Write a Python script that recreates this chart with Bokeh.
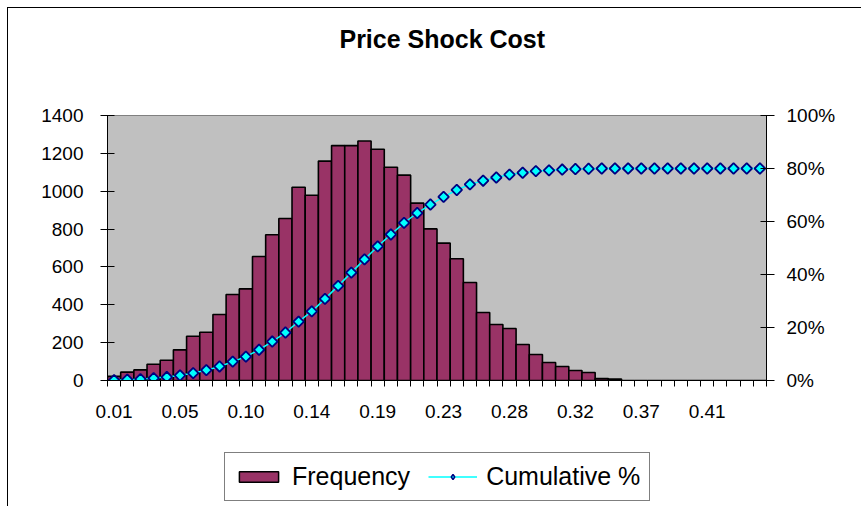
import numpy as np
from bokeh.plotting import figure
from bokeh.layouts import column
from bokeh.models import (Range1d, LinearAxis, FixedTicker, NumeralTickFormatter,
                          Legend, LegendItem, Label)
from bokeh.embed import file_html
from bokeh.resources import INLINE

# ---- data ----
title_text = "Price Shock Cost"
tick_labels = ["0.01", "0.05", "0.10", "0.14", "0.19", "0.23", "0.28", "0.32", "0.37", "0.41"]

frequency = [22, 44, 56, 86, 107, 162, 234, 255, 349, 454,
             484, 655, 770, 856, 1021, 979, 1159, 1241, 1241, 1265,
             1222, 1127, 1085, 937, 801, 726, 643, 518, 359, 296,
             275, 190, 137, 95, 74, 53, 42, 10, 8, 0,
             0, 0, 0, 0, 0, 0, 0, 0, 0, 0]

cumulative_pct = [0.1, 0.3, 0.5, 0.9, 1.3, 1.9, 2.8, 3.9, 5.3, 7.1,
                  9.0, 11.6, 14.7, 18.1, 22.2, 26.1, 30.8, 35.7, 40.7, 45.7,
                  50.6, 55.1, 59.5, 63.2, 66.4, 69.3, 71.9, 74.0, 75.4, 76.6,
                  77.7, 78.4, 79.0, 79.3, 79.6, 79.8, 79.9, 80.0, 80.0, 80.0,
                  80.0, 80.0, 80.0, 80.0, 80.0, 80.0, 80.0, 80.0, 80.0, 80.0]

FONT = "Liberation Sans"
BAR_FILL = "#993366"
LINE_COL = "#00FFFF"
MARK_EDGE = "#000080"
n = len(frequency)
x = list(range(n))
cum_frac = [v / 100.0 for v in cumulative_pct]

W = 853
H_TITLE = 60
H_MAIN = 372
H_LEG = 66


def strip(height):
    f = figure(width=W, height=height, output_backend="svg", toolbar_location=None,
               x_axis_location=None, y_axis_location=None,
               x_range=Range1d(0, 1), y_range=Range1d(0, height),
               min_border_left=0, min_border_right=0, min_border_top=0, min_border_bottom=0,
               background_fill_color="white", border_fill_color="white",
               outline_line_color=None)
    f.xgrid.visible = False
    f.ygrid.visible = False
    return f


# ---- title strip ----
t = strip(H_TITLE)
t.add_layout(Label(x=0.508, y=H_TITLE - 30.5, text=title_text, text_align="center",
                   text_baseline="middle", text_font=FONT, text_font_size="25px",
                   text_font_style="bold", text_color="black"))

# ---- main chart ----
p = figure(width=W, height=H_MAIN, output_backend="svg", toolbar_location=None,
           x_range=Range1d(-0.5, n - 0.5), y_range=Range1d(0, 1400),
           min_border_left=99, min_border_right=95, min_border_top=47, min_border_bottom=60,
           background_fill_color="#C0C0C0", border_fill_color="white",
           outline_line_color="#808080", outline_line_width=1)
p.extra_y_ranges = {"pct": Range1d(0, 1)}
p.xgrid.visible = False
p.ygrid.visible = False

# x axis
major = list(range(0, n, 5))
xa = p.xaxis[0]
xa.ticker = FixedTicker(ticks=major, minor_ticks=[i - 0.5 for i in range(n + 1)])
xa.major_label_overrides = {tk: lab for tk, lab in zip(major, tick_labels)}
xa.major_tick_line_color = None
xa.minor_tick_line_color = "black"
xa.minor_tick_in = 0
xa.minor_tick_out = 6
xa.axis_line_color = "black"
xa.major_label_standoff = 18
xa.major_label_text_font = FONT
xa.major_label_text_font_size = "19px"
xa.major_label_text_color = "black"

# left y axis
ya = p.yaxis[0]
ya.ticker = FixedTicker(ticks=list(range(0, 1401, 200)))
ya.minor_tick_line_color = None
ya.major_tick_in = 7
ya.major_tick_out = 7
ya.major_tick_line_color = "black"
ya.axis_line_color = "black"
ya.major_label_standoff = 17
ya.major_label_text_font = FONT
ya.major_label_text_font_size = "19px"
ya.major_label_text_color = "black"

# right y axis
ra = LinearAxis(y_range_name="pct", ticker=FixedTicker(ticks=[0, 0.2, 0.4, 0.6, 0.8, 1.0]),
                formatter=NumeralTickFormatter(format="0%"))
ra.minor_tick_line_color = None
ra.major_tick_in = 6
ra.major_tick_out = 8
ra.major_tick_line_color = "black"
ra.axis_line_color = "black"
ra.major_label_standoff = 12
ra.major_label_text_font = FONT
ra.major_label_text_font_size = "19px"
ra.major_label_text_color = "black"
p.add_layout(ra, "right")

# glyphs
bars = p.vbar(x=x, top=frequency, width=1.0, fill_color=BAR_FILL,
              line_color="black", line_width=1.6)
ln = p.line(x, cum_frac, y_range_name="pct", line_color=LINE_COL, line_width=1.5)
pts = p.scatter(x, cum_frac, y_range_name="pct", marker="square", angle=np.pi / 4,
                size=7.5, fill_color=LINE_COL, line_color=MARK_EDGE, line_width=1.8)

# ---- legend strip (separate figure so the legend is not clipped) ----
q = strip(H_LEG)
nan = [float("nan")]
lb = q.vbar(x=nan, top=nan, width=1.0, fill_color=BAR_FILL, line_color="black", line_width=1.5)
ll = q.line(nan, nan, line_color=LINE_COL, line_width=1.5)
lp = q.scatter(nan, nan, marker="diamond", size=14, fill_color=LINE_COL,
               line_color=MARK_EDGE, line_width=1.5)

legend = Legend(items=[LegendItem(label="Frequency", renderers=[lb]),
                       LegendItem(label="Cumulative %", renderers=[ll, lp])],
                location=(117, 5), orientation="horizontal",
                glyph_width=49, glyph_height=13, label_standoff=9, spacing=18,
                padding=9, margin=0, label_height=26,
                label_text_font=FONT, label_text_font_size="25px", label_text_color="black",
                border_line_color="black", border_line_width=1,
                background_fill_color="white", background_fill_alpha=1.0)
q.add_layout(legend)

layout = column(t, p, q, spacing=0)
layout.styles = {"margin-left": "7px", "margin-top": "7px",
                 "border-left": "1px solid black", "border-top": "1px solid black"}

open("out.html", "w").write(file_html(layout, INLINE))
